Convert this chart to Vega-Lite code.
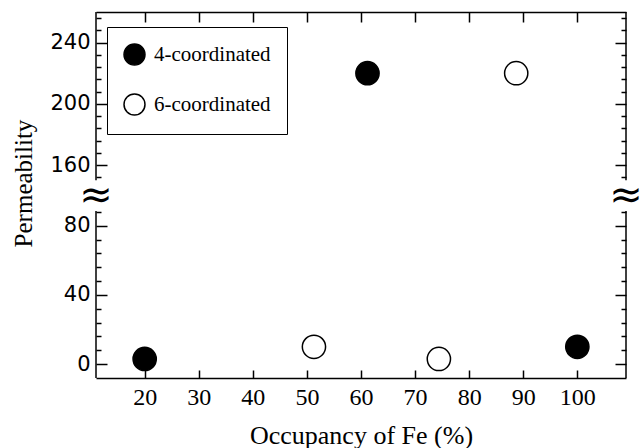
{
  "$schema": "https://vega.github.io/schema/vega-lite/v6.json",
  "width": 530,
  "height": 366,
  "autosize": "none",
  "padding": {"left": 96, "top": 12, "right": 17, "bottom": 70},
  "background": "white",
  "config": {
    "view": {"stroke": null},
    "axis": {"grid": false, "domainColor": "black", "tickColor": "black", "labelColor": "black", "titleColor": "black", "domainWidth": 1.5, "tickWidth": 1.5, "titleFontWeight": "normal"}
  },
  "resolve": {"axis": {"x": "independent", "y": "independent"}},
  "layer": [
    {
      "data": {"values": [
        {"occupancy": 20, "permeability": 3, "type": "4-coordinated"},
        {"occupancy": 61.2, "permeability": 220, "type": "4-coordinated"},
        {"occupancy": 100, "permeability": 10, "type": "4-coordinated"},
        {"occupancy": 51.3, "permeability": 10, "type": "6-coordinated"},
        {"occupancy": 74.4, "permeability": 3, "type": "6-coordinated"},
        {"occupancy": 88.7, "permeability": 220, "type": "6-coordinated"}
      ]},
      "mark": {"type": "point", "shape": "circle", "filled": true, "stroke": "black", "strokeWidth": 1.5, "size": 540, "opacity": 1},
      "encoding": {
        "x": {"field": "occupancy", "type": "quantitative",
          "scale": {"domain": [11, 109], "nice": false, "zero": false},
          "axis": {"orient": "bottom", "values": [20, 30, 40, 50, 60, 70, 80, 90, 100], "tickSize": -8, "labelPadding": 15,
            "labelFont": "Liberation Serif", "labelFontSize": 24, "title": "Occupancy of Fe (%)", "titleFont": "Liberation Serif", "titleFontSize": 26, "titleY": 65, "titleBaseline": "alphabetic"}},
        "y": {"field": "permeability", "type": "quantitative",
          "scale": {"domain": [-8, 88.5, 150, 260], "range": [366, 199, 168.3, 0], "nice": false, "zero": false},
          "axis": {"orient": "left", "domain": false,
            "values": [0, 8, 16, 24, 32, 40, 48, 56, 64, 72, 80, 88, 152, 160, 168, 176, 184, 192, 200, 208, 216, 224, 232, 240, 248, 256],
            "tickSize": {"condition": {"test": "datum.value % 40 === 0", "value": -11}, "value": -5},
            "labelExpr": "datum.value % 40 === 0 ? datum.label : ''",
            "labelPadding": 17, "labelFont": "DejaVu Sans", "labelFontSize": 21,
            "title": "Permeability", "titleFont": "Liberation Serif", "titleFontSize": 25, "titleX": -73, "titleY": 171, "titleAngle": 270, "titleBaseline": "middle", "titleAlign": "center"}},
        "fill": {"field": "type", "type": "nominal",
          "scale": {"domain": ["4-coordinated", "6-coordinated"], "range": ["black", "white"]},
          "legend": {"orient": "none", "legendX": 11, "legendY": 15, "title": null, "strokeColor": "black", "fillColor": "white", "padding": 16,
            "labelFont": "Liberation Serif", "labelFontSize": 21, "labelColor": "black", "symbolSize": 440, "symbolType": "circle",
            "symbolStrokeColor": "black", "symbolStrokeWidth": 1.5, "rowPadding": 23, "labelOffset": 8}}
      }
    },
    {
      "data": {"values": [
        {"x": 11, "y1": -8, "y2": 88.5},
        {"x": 11, "y1": 150, "y2": 260},
        {"x": 109, "y1": -8, "y2": 88.5},
        {"x": 109, "y1": 150, "y2": 260}
      ]},
      "mark": {"type": "rule", "stroke": "black", "strokeWidth": 1.5},
      "encoding": {
        "x": {"field": "x", "type": "quantitative",
          "scale": {"domain": [11, 109], "nice": false, "zero": false},
          "axis": {"orient": "top", "values": [20, 30, 40, 50, 60, 70, 80, 90, 100], "tickSize": -10, "labels": false, "title": null}},
        "y": {"field": "y1", "type": "quantitative",
          "scale": {"domain": [-8, 88.5, 150, 260], "range": [366, 199, 168.3, 0], "nice": false, "zero": false},
          "axis": {"orient": "right", "domain": false,
            "values": [0, 8, 16, 24, 32, 40, 48, 56, 64, 72, 80, 88, 152, 160, 168, 176, 184, 192, 200, 208, 216, 224, 232, 240, 248, 256],
            "tickSize": {"condition": {"test": "datum.value % 40 === 0", "value": -11}, "value": -5},
            "labels": false, "title": null}},
        "y2": {"field": "y2"}
      }
    },
    {
      "data": {"values": [
        {"x": 11, "y": 119, "s": "≈"},
        {"x": 109, "y": 119, "s": "≈"}
      ]},
      "mark": {"type": "text", "font": "DejaVu Sans", "fontSize": 40, "color": "black", "baseline": "middle", "align": "center"},
      "encoding": {
        "x": {"field": "x", "type": "quantitative", "scale": {"domain": [11, 109], "nice": false, "zero": false}, "axis": null},
        "y": {"field": "y", "type": "quantitative", "scale": {"domain": [-8, 88.5, 150, 260], "range": [366, 199, 168.3, 0], "nice": false, "zero": false}, "axis": null},
        "text": {"field": "s"}
      }
    }
  ]
}
